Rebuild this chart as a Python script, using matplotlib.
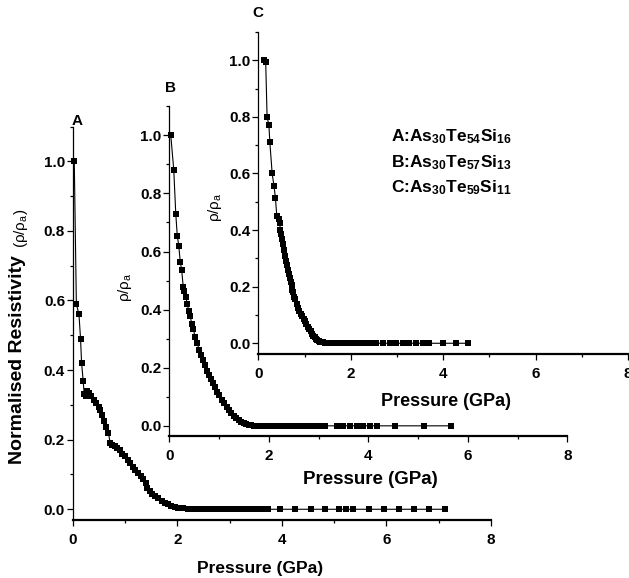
import matplotlib
matplotlib.use("Agg")
import matplotlib.pyplot as plt
from matplotlib.ticker import MultipleLocator, FormatStrFormatter

plt.rcParams["font.family"] = ["Liberation Sans", "DejaVu Sans"]
plt.rcParams["mathtext.fontset"] = "custom"
plt.rcParams["mathtext.rm"] = "Liberation Sans"
plt.rcParams["mathtext.it"] = "Liberation Sans"
plt.rcParams["mathtext.bf"] = "Liberation Sans:bold"

# --- données (pression en GPa, rho/rho_a) ---
p_a = [0.03, 0.07, 0.12, 0.15, 0.17, 0.20, 0.22, 0.25, 0.28, 0.31, 0.35, 0.40,
       0.45, 0.50, 0.53, 0.56, 0.60, 0.64, 0.68, 0.72, 0.76, 0.80, 0.85, 0.90,
       0.95, 1.00, 1.05, 1.10, 1.15, 1.20, 1.25, 1.30, 1.35, 1.40, 1.43, 1.47,
       1.52, 1.58, 1.64, 1.70, 1.76, 1.82, 1.88, 1.95, 2.02, 2.10, 2.20, 2.30,
       2.38, 2.46, 2.54, 2.62, 2.70, 2.78, 2.86, 2.94, 3.02, 3.10, 3.18, 3.26,
       3.34, 3.42, 3.52, 3.62, 3.74, 3.96, 4.26, 4.55, 4.83, 5.10, 5.22, 5.36,
       5.67, 5.96, 6.25, 6.53, 6.82, 7.12]
r_a = [1.00, 0.59, 0.56, 0.49, 0.42, 0.37, 0.33, 0.325, 0.34, 0.335, 0.325, 0.315,
       0.305, 0.295, 0.285, 0.27, 0.255, 0.235, 0.22, 0.19, 0.186, 0.183, 0.177, 0.17,
       0.16, 0.152, 0.142, 0.132, 0.122, 0.113, 0.105, 0.097, 0.088, 0.075, 0.06, 0.052,
       0.045, 0.038, 0.031, 0.025, 0.019, 0.014, 0.010, 0.007, 0.005, 0.003, 0.002, 0.001,
       0.001, 0, 0, 0, 0, 0, 0, 0, 0, 0, 0, 0,
       0, 0, 0, 0, 0, 0, 0, 0, 0, 0, 0, 0,
       0, 0, 0, 0, 0, 0]

p_b = [0.03, 0.09, 0.13, 0.16, 0.19, 0.22, 0.25, 0.28, 0.30, 0.33, 0.36, 0.39,
       0.42, 0.45, 0.48, 0.52, 0.56, 0.60, 0.64, 0.68, 0.72, 0.76, 0.80, 0.84,
       0.88, 0.92, 0.96, 1.00, 1.05, 1.10, 1.15, 1.20, 1.25, 1.30, 1.35, 1.40,
       1.45, 1.50, 1.55, 1.60, 1.65, 1.70, 1.75, 1.80, 1.88, 1.96, 2.04, 2.12,
       2.20, 2.28, 2.36, 2.44, 2.52, 2.60, 2.68, 2.76, 2.84, 2.90, 3.03, 3.13,
       3.37, 3.50, 3.63, 3.77, 3.90, 4.03, 4.18, 4.53, 5.11, 5.67]
r_b = [1.00, 0.88, 0.73, 0.655, 0.62, 0.565, 0.535, 0.478, 0.465, 0.445, 0.42, 0.395,
       0.378, 0.352, 0.335, 0.305, 0.285, 0.262, 0.243, 0.226, 0.208, 0.19, 0.175, 0.16,
       0.146, 0.132, 0.118, 0.105, 0.09, 0.077, 0.064, 0.053, 0.043, 0.034, 0.026, 0.019,
       0.013, 0.009, 0.006, 0.004, 0.002, 0.001, 0, 0, 0, 0, 0, 0,
       0, 0, 0, 0, 0, 0, 0, 0, 0, 0, 0, 0,
       0, 0, 0, 0, 0, 0, 0, 0, 0, 0]

p_c = [0.13, 0.16, 0.19, 0.23, 0.25, 0.30, 0.34, 0.37, 0.40, 0.44, 0.46, 0.48,
       0.50, 0.52, 0.54, 0.56, 0.58, 0.60, 0.62, 0.64, 0.66, 0.68, 0.70, 0.72,
       0.74, 0.76, 0.78, 0.80, 0.83, 0.86, 0.89, 0.92, 0.95, 0.98, 1.01, 1.04,
       1.07, 1.10, 1.13, 1.16, 1.19, 1.22, 1.25, 1.28, 1.31, 1.34, 1.37, 1.40,
       1.44, 1.48, 1.52, 1.58, 1.66, 1.74, 1.82, 1.90, 1.98, 2.06, 2.14, 2.22,
       2.30, 2.38, 2.46, 2.55, 2.70, 2.84, 2.99, 3.14, 3.27, 3.42, 3.56, 3.69,
       3.99, 4.27, 4.53]
r_c = [1.00, 0.995, 0.80, 0.77, 0.71, 0.60, 0.555, 0.515, 0.45, 0.44, 0.425, 0.40,
       0.385, 0.37, 0.35, 0.33, 0.31, 0.29, 0.275, 0.26, 0.245, 0.23, 0.215, 0.205,
       0.19, 0.18, 0.165, 0.155, 0.14, 0.125, 0.113, 0.103, 0.095, 0.085, 0.077, 0.068,
       0.059, 0.05, 0.042, 0.034, 0.027, 0.021, 0.016, 0.012, 0.009, 0.006, 0.004, 0.003,
       0.002, 0.001, 0, 0, 0, 0, 0, 0, 0, 0, 0, 0,
       0, 0, 0, 0, 0, 0, 0, 0, 0, 0, 0, 0,
       0, 0, 0]

W, H = 629, 578
fig = plt.figure(figsize=(W / 100, H / 100), dpi=100)


def px_axes(left, right, bottom, top):
    return fig.add_axes([left / W, 1 - bottom / H, (right - left) / W, (bottom - top) / H])


def style(ax, ymin):
    ax.patch.set_alpha(0)
    ax.set_xlim(0, 8)
    ax.set_ylim(ymin, 1.1)
    for s in ("top", "right"):
        ax.spines[s].set_visible(False)
    ax.spines["left"].set_linewidth(0.9)
    ax.spines["bottom"].set_linewidth(1.6)
    ax.xaxis.set_major_locator(MultipleLocator(2))
    ax.xaxis.set_minor_locator(MultipleLocator(1))
    ax.yaxis.set_major_locator(MultipleLocator(0.2))
    ax.yaxis.set_minor_locator(MultipleLocator(0.1))
    ax.yaxis.set_major_formatter(FormatStrFormatter("%.1f"))
    ax.xaxis.set_major_formatter(FormatStrFormatter("%d"))
    ax.tick_params(which="major", direction="out", length=4.3, width=0.9,
                   labelsize=11, pad=1.2)
    ax.tick_params(axis="x", which="major", pad=5)
    ax.tick_params(which="minor", direction="out", length=2.5, width=0.9)
    for lab in ax.get_xticklabels() + ax.get_yticklabels():
        lab.set_fontweight("bold")


def trace(ax, x, y):
    ax.plot(x, y, "-", color="black", lw=0.8, marker="s", ms=5,
            mfc="black", mec="black", mew=0, clip_on=False)


ax_a = px_axes(72.7, 491, 519.7, 126.5)
style(ax_a, -0.03)
trace(ax_a, p_a, r_a)

ax_b = px_axes(169.3, 567.3, 436, 106.3)
style(ax_b, -0.035)
trace(ax_b, p_b, r_b)

ax_c = px_axes(258.3, 628, 354.3, 32)
style(ax_c, -0.039)
trace(ax_c, p_c, r_c)


def ftext(x, y, s, **kw):
    fig.text(x / W, 1 - y / H, s, ha="center", va="center", **kw)


# étiquettes des panneaux
ftext(77, 121, "A", fontsize=11, fontweight="bold")
ftext(170, 88, "B", fontsize=11, fontweight="bold")
ftext(258, 13, "C", fontsize=11, fontweight="bold")

# axes x
ftext(260, 568, "Pressure (GPa)", fontsize=12.5, fontweight="bold")
ftext(370, 480, "Pressure (GPa)", fontsize=13.5, fontweight="bold")
ftext(446, 402, "Pressure (GPa)", fontsize=13, fontweight="bold")

# axes y
ftext(18, 360, "Normalised Resistivity", fontsize=14, fontweight="bold", rotation=90)
ftext(21, 228, r"$(\rho/\rho_{\rm a})$", fontsize=11, rotation=90)
ftext(125, 287, r"$\rho/\rho_{\rm a}$", fontsize=11, rotation=90)
ftext(215, 207, r"$\rho/\rho_{\rm a}$", fontsize=11, rotation=90)

# compositions
compos = [
    r"A:As$_{\mathbf{30}}$Te$_{\mathbf{54}}$Si$_{\mathbf{16}}$",
    r"B:As$_{\mathbf{30}}$Te$_{\mathbf{57}}$Si$_{\mathbf{13}}$",
    r"C:As$_{\mathbf{30}}$Te$_{\mathbf{59}}$Si$_{\mathbf{11}}$",
]
for i, s in enumerate(compos):
    fig.text(391 / W, 1 - (137 + 25.5 * i) / H, s, ha="left", va="center",
             fontsize=12.5, fontweight="bold")

fig.savefig("out.png", dpi=100)
